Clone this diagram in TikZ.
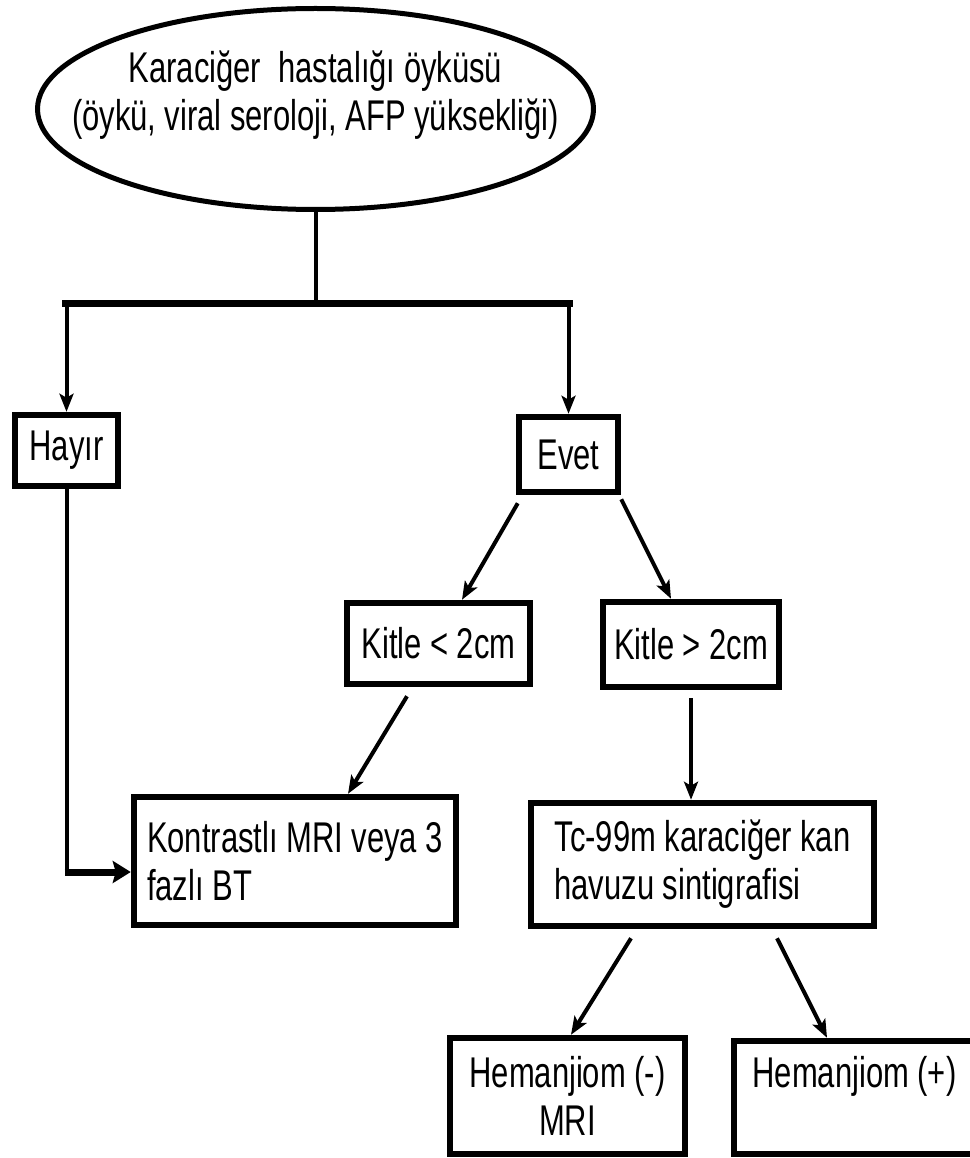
\documentclass[tikz,border=0pt]{standalone}
\usepackage{fontspec}
\setmainfont{Liberation Sans}[FakeStretch=0.72]
\usetikzlibrary{shapes.geometric,arrows.meta}
\tikzset{
  question/.style={ % the opening question, an ellipse
    ellipse, draw, line width=5pt, inner sep=0pt,
    minimum width=556pt, minimum height=201pt
  },
  box/.style={ % a plain step of the flow
    draw, rectangle, line width=6.5pt, inner sep=0pt, align=center
  },
  link/.style={line width=4pt},
  bar/.style={line width=7pt},
  arrow/.style={
    line width=4pt, -{Stealth[length=18pt,width=14pt,inset=4pt]}
  },
  thickarrow/.style={
    line width=7pt, -{Stealth[length=18pt,width=22pt,inset=3pt]}
  }
}

\begin{document}
\begin{tikzpicture}[x=1pt, y=-1pt, font=\fontsize{43}{48}\selectfont]
  \useasboundingbox (0,0) rectangle (969,1158);

  \node[question, label={[align=center, yshift=14pt]center:Karaciğer\ \ hastalığı öyküsü\\(öykü, viral seroloji, AFP yüksekliği)}]
    (history) at (315.5,109) {};
  \node[box, minimum width=103pt, minimum height=71pt] (no) at (66.5,450.5) {Hayır};
  \node[box, minimum width=99pt, minimum height=75pt] (yes) at (568.5,454.5) {Evet};
  \node[box, minimum width=183pt, minimum height=81pt] (small) at (438.5,643.5) {Kitle < 2cm};
  \node[box, minimum width=176pt, minimum height=85pt] (large) at (691,644.5) {Kitle > 2cm};
  \node[box, align=left, minimum width=322pt, minimum height=128pt] (mri) at (295,861)
    {Kontrastlı MRI veya 3\\fazlı BT};
  \node[box, align=left, minimum width=343pt, minimum height=123pt] (scan) at (702.5,864.5)
    {Tc-99m karaciğer kan\\havuzu sintigrafisi};
  \node[box, minimum width=235pt, minimum height=116pt] (hemneg) at (567.5,1096)
    {Hemanjiom (-)\\MRI};
  \node[box, minimum width=241pt, minimum height=113pt, text height=31pt, text depth=52pt]
    (hempos) at (854.5,1097.5) {Hemanjiom (+)};

  \coordinate (barL) at (62,303);
  \coordinate (barR) at (573,303);
  \coordinate (bend) at (66.5,872);

  % split below the question
  \draw[link] (history.south) -- (history.south |- barL);
  \draw[bar] (barL) -- (barR);
  \draw[arrow] (no.north |- barL) -- (no.north);
  \draw[arrow] (yes.north |- barR) -- (yes.north);

  \draw[arrow] ([xshift=2pt,yshift=-8pt]yes.south west) -- ([xshift=23.5pt]small.north);
  \draw[arrow] ([yshift=-4pt]yes.south east) -- ([xshift=-20pt]large.north);
  \draw[arrow] ([xshift=-31.5pt,yshift=-9pt]small.south) -- ([xshift=53pt]mri.north);
  \draw[arrow] ([yshift=-8pt]large.south) -- (large.south |- scan.north);
  \draw[arrow] ([xshift=-71.5pt,yshift=-9pt]scan.south) -- ([xshift=3.5pt]hemneg.north);
  \draw[arrow] ([xshift=74.5pt,yshift=-9pt]scan.south) -- ([xshift=-27.5pt]hempos.north);

  % no history: straight to MRI / BT
  \draw[link] (no.south) -- (bend);
  \draw[thickarrow] ([xshift=-2pt]bend) -- (bend -| mri.west);
\end{tikzpicture}
\end{document}
